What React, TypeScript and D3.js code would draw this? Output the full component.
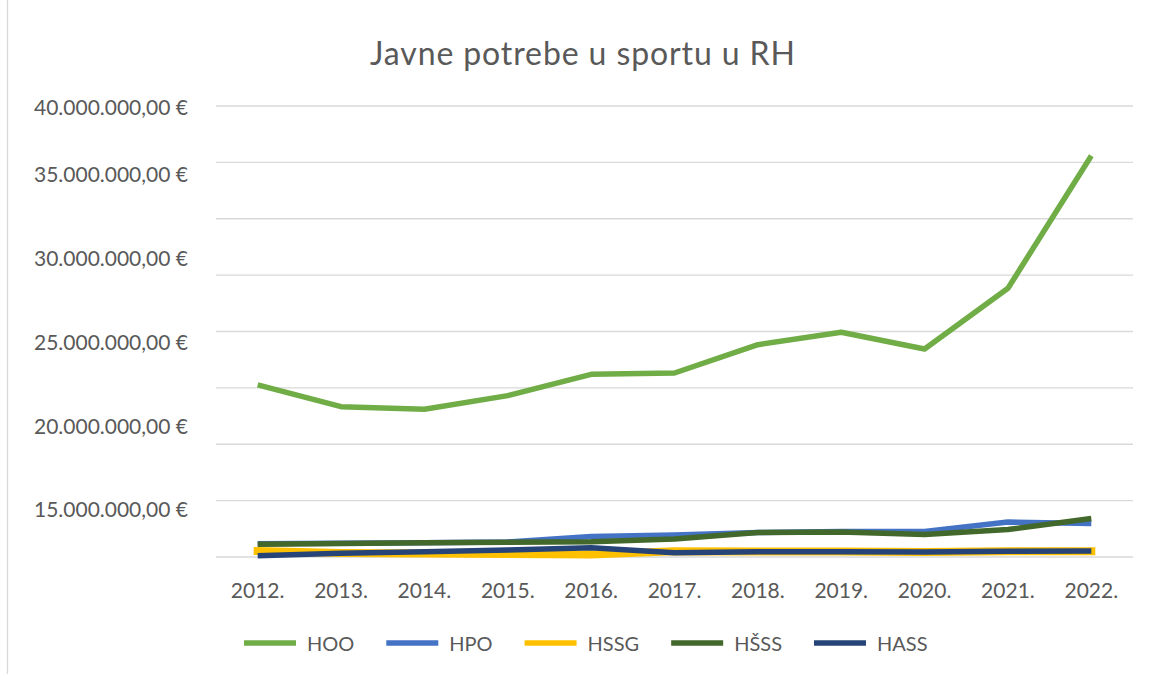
import React from "react";
import * as d3 from "d3";

const years = ["2012.", "2013.", "2014.", "2015.", "2016.", "2017.", "2018.", "2019.", "2020.", "2021.", "2022."];
const hoo = [15.26, 13.33, 13.1, 14.31, 16.2, 16.32, 18.83, 19.93, 18.45, 23.83, 35.59];
const hpo = [1.17, 1.22, 1.26, 1.33, 1.82, 1.95, 2.17, 2.26, 2.26, 3.1, 2.97];
const hssg = [0.53, 0.35, 0.3, 0.27, 0.22, 0.5, 0.48, 0.48, 0.45, 0.5, 0.5];
const hsss = [1.13, 1.2, 1.26, 1.3, 1.36, 1.6, 2.17, 2.22, 2.0, 2.44, 3.41];
const hass = [0.12, 0.33, 0.47, 0.62, 0.82, 0.38, 0.47, 0.47, 0.44, 0.5, 0.53];
const gridValues = [0, 5, 10, 15, 20, 25, 30, 35, 40];
const tickLabels = ["40.000.000,00 €", "35.000.000,00 €", "30.000.000,00 €", "25.000.000,00 €", "20.000.000,00 €", "15.000.000,00 €"];
const tickLabelValues = [40, 35, 30, 25, 20, 15];

const seriesNames = ["HOO", "HPO", "HSSG", "HŠSS", "HASS"];
const seriesValues = [hoo, hpo, hssg, hsss, hass];
const seriesColors = ["#70AD47", "#4472C4", "#FFC000", "#43682B", "#264478"];
const drawOrder = [0, 2, 4, 1, 3];

const FONT = "Lato, 'Open Sans', sans-serif";
const TEXT = "#595959";

function measure(text: string, size: number): number {
  if (typeof document === "undefined") return text.length * size * 0.6;
  const c = document.createElement("canvas");
  const ctx = c.getContext("2d");
  if (!ctx) return text.length * size * 0.6;
  ctx.font = `${size}px Lato`;
  return ctx.measureText(text).width;
}

export default function App() {
  const W = 1154, H = 674;
  const x = d3.scaleBand<string>().domain(years).range([216, 1133]);
  const y = d3.scaleLinear().domain([0, 40]).range([557, 106]);
  const labelY = d3.scaleLinear().domain([15, 35, 40]).range([510, 175, 108]);
  const line = d3.line<number>()
    .x((_, i) => (x(years[i]) as number) + x.bandwidth() / 2)
    .y((v) => y(v));

  const legendSize = 20;
  const legendStarts: number[] = [];
  let cursor = 244;
  seriesNames.forEach((n) => {
    legendStarts.push(cursor);
    cursor += 63 + measure(n, legendSize) + 32;
  });

  return (
    <svg width={W} height={H} style={{ position: "absolute", left: 0, top: 0, background: "#fff" }}>
      <rect x={7.5} y={-2} width={W + 10} height={H + 10} fill="#fff" stroke="#D9D9D9" strokeWidth={1.3} />
      <text x={582.5} y={65} textAnchor="middle" fontFamily={FONT} fontSize={32} fill={TEXT} textLength={425} lengthAdjust="spacing">
        Javne potrebe u sportu u RH
      </text>
      {gridValues.map((g) => (
        <line key={g} x1={216} x2={1133} y1={y(g)} y2={y(g)} stroke="#D9D9D9" strokeWidth={1.3} />
      ))}
      {tickLabels.map((t, i) => (
        <text key={t} x={188} y={labelY(tickLabelValues[i])} dy="0.35em" textAnchor="end" fontFamily={FONT} fontSize={21} fill={TEXT}>
          {t}
        </text>
      ))}
      {years.map((yr) => (
        <text key={yr} x={(x(yr) as number) + x.bandwidth() / 2} y={590.5} dy="0.35em" textAnchor="middle" fontFamily={FONT} fontSize={21} fill={TEXT}>
          {yr}
        </text>
      ))}
      {drawOrder.map((si) => (
        <path
          key={seriesNames[si]}
          d={line(seriesValues[si]) || ""}
          fill="none"
          stroke={seriesColors[si]}
          strokeWidth={si === 2 ? 8 : 5.5}
          strokeLinejoin="round"
          strokeLinecap={si === 2 ? "square" : "butt"}
        />
      ))}
      {seriesNames.map((n, i) => {
        const lx = legendStarts[i];
        return (
          <g key={n}>
            <line x1={lx} x2={lx + 52} y1={643} y2={643} stroke={seriesColors[i]} strokeWidth={5.5} />
            <text x={lx + 63} y={644} dy="0.35em" fontFamily={FONT} fontSize={legendSize} fill={TEXT}>
              {n}
            </text>
          </g>
        );
      })}
    </svg>
  );
}
